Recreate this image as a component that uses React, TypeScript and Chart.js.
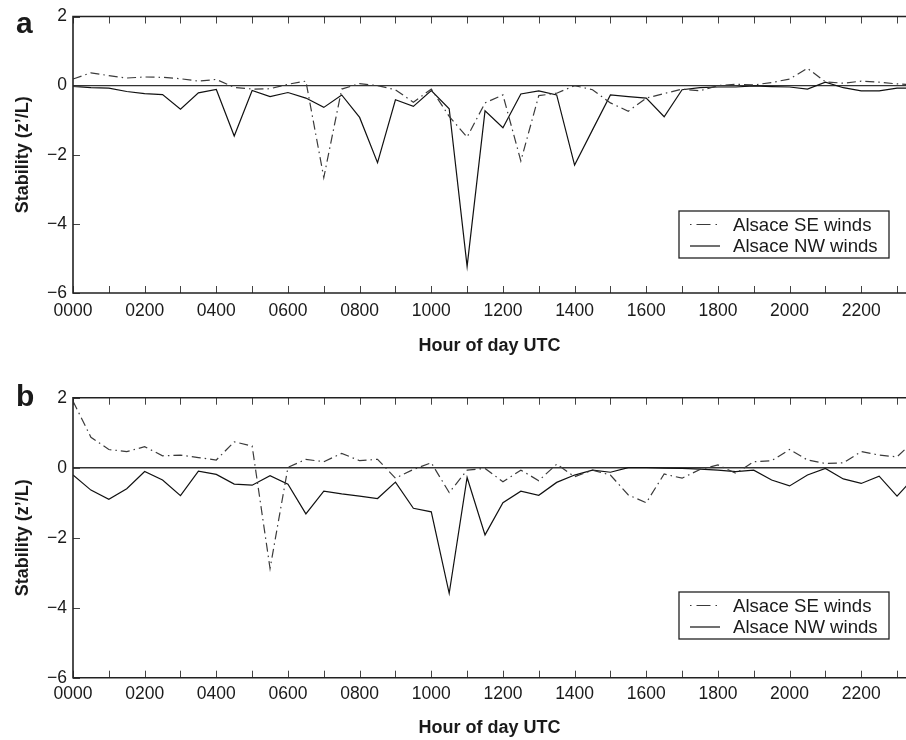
import React, { useEffect, useRef } from "react";
import { Chart, registerables } from "chart.js";

Chart.register(...registerables);

// ---- data ----
const hours = [
  0, 0.5, 1, 1.5, 2, 2.5, 3, 3.5, 4, 4.5, 5, 5.5, 6, 6.5, 7, 7.5, 8, 8.5, 9, 9.5,
  10, 10.5, 11, 11.5, 12, 12.5, 13, 13.5, 14, 14.5, 15, 15.5, 16, 16.5, 17, 17.5,
  18, 18.5, 19, 19.5, 20, 20.5, 21, 21.5, 22, 22.5, 23, 23.5,
];

const seWindsA = [
  0.19, 0.37, 0.29, 0.22, 0.25, 0.24, 0.2, 0.13, 0.18, -0.05,
  -0.1, -0.09, 0.04, 0.13, -2.66, -0.1, 0.06, 0, -0.12, -0.48,
  -0.1, -0.89, -1.49, -0.5, -0.27, -2.18, -0.29, -0.22, 0, -0.12,
  -0.5, -0.74, -0.36, -0.23, -0.1, -0.15, 0, 0.04, 0.02, 0.09,
  0.19, 0.5, 0.11, 0.07, 0.13, 0.1, 0.05, 0.02,
];
const nwWindsA = [
  -0.02, -0.06, -0.07, -0.17, -0.23, -0.26, -0.68, -0.21, -0.11, -1.46,
  -0.14, -0.32, -0.2, -0.36, -0.63, -0.27, -0.92, -2.23, -0.41, -0.6,
  -0.14, -0.67, -5.23, -0.73, -1.22, -0.24, -0.15, -0.27, -2.3, -1.28,
  -0.27, -0.32, -0.36, -0.9, -0.12, -0.06, -0.04, -0.04, -0.01, -0.03,
  -0.04, -0.1, 0.1, -0.06, -0.15, -0.15, -0.07, -0.08,
];
const seWindsB = [
  1.9, 0.87, 0.52, 0.46, 0.6, 0.34, 0.36, 0.29, 0.22, 0.74,
  0.62, -2.88, 0.01, 0.24, 0.17, 0.41, 0.2, 0.24, -0.3, -0.05,
  0.14, -0.71, -0.07, -0.02, -0.4, -0.07, -0.37, 0.1, -0.26, -0.07,
  -0.21, -0.78, -1.0, -0.18, -0.3, -0.05, 0.08, -0.16, 0.17, 0.2,
  0.52, 0.22, 0.12, 0.14, 0.46, 0.36, 0.31, 0.79,
];
const nwWindsB = [
  -0.21, -0.64, -0.9, -0.6, -0.11, -0.35, -0.8, -0.1, -0.19, -0.47,
  -0.5, -0.23, -0.47, -1.32, -0.67, -0.75, -0.81, -0.88, -0.41, -1.16,
  -1.26, -3.59, -0.28, -1.92, -1.0, -0.67, -0.79, -0.42, -0.21, -0.07,
  -0.13, 0, 0, -0.01, -0.02, -0.04, -0.07, -0.11, -0.07, -0.35,
  -0.52, -0.21, -0.02, -0.32, -0.45, -0.24, -0.81, -0.26,
];

const xLabelHours = [0, 2, 4, 6, 8, 10, 12, 14, 16, 18, 20, 22];
const xTickLabels = ["0000", "0200", "0400", "0600", "0800", "1000", "1200", "1400", "1600", "1800", "2000", "2200"];
const xMinorHours = [0, 1, 2, 3, 4, 5, 6, 7, 8, 9, 10, 11, 12, 13, 14, 15, 16, 17, 18, 19, 20, 21, 22, 23];
const yTickValues = [-6, -4, -2, 0, 2];
const yTickLabels = ["\u22126", "\u22124", "\u22122", "0", "2"];
const seriesLabels = ["Alsace SE winds", "Alsace NW winds"];
const xTitle = "Hour of day UTC";
const yTitle = "Stability (z\u2019/L)";

const FONT = '"Liberation Sans", Arial, Helvetica, sans-serif';
const SE_DASH = [9, 4, 1.5, 4];

type PanelProps = {
  letter: string;
  se: number[];
  nw: number[];
  top: number;
  padTop: number;
  xHeight: number;
  tickPad: number;
  titlePadBottom: number;
  legendTop: number;
  letterBaseline: number;
};

function Panel(p: PanelProps) {
  const ref = useRef<HTMLCanvasElement | null>(null);

  useEffect(() => {
    if (!ref.current) return;
    const deco = {
      id: "deco",
      beforeDatasetsDraw(chart: any) {
        const { ctx, chartArea } = chart;
        const y0 = chart.scales.y.getPixelForValue(0);
        ctx.save();
        ctx.strokeStyle = "#333";
        ctx.lineWidth = 1.4;
        ctx.beginPath();
        ctx.moveTo(chartArea.left, y0);
        ctx.lineTo(chartArea.right, y0);
        ctx.stroke();
        ctx.restore();
      },
      afterDraw(chart: any) {
        const { ctx, chartArea } = chart;
        const xs = chart.scales.x;
        const ys = chart.scales.y;
        const { left, right, top, bottom } = chartArea;
        ctx.save();
        // ticks
        ctx.strokeStyle = "#444";
        ctx.lineWidth = 1;
        const tl = 7;
        ctx.beginPath();
        xMinorHours.forEach((h) => {
          const x = Math.round(xs.getPixelForValue(h)) + 0.5;
          ctx.moveTo(x, top);
          ctx.lineTo(x, top + tl);
          ctx.moveTo(x, bottom);
          ctx.lineTo(x, bottom - tl);
        });
        yTickValues.forEach((v) => {
          const y = Math.round(ys.getPixelForValue(v)) + 0.5;
          ctx.moveTo(left, y);
          ctx.lineTo(left + tl, y);
        });
        ctx.stroke();
        // frame (right side lies beyond the picture)
        ctx.strokeStyle = "#222";
        ctx.lineWidth = 1.6;
        ctx.beginPath();
        ctx.moveTo(right + 2, top);
        ctx.lineTo(left, top);
        ctx.lineTo(left, bottom);
        ctx.lineTo(right + 2, bottom);
        ctx.stroke();
        // legend
        const bw = 210;
        const bh = 47;
        const bx = right - 17 - bw;
        const by = p.legendTop;
        ctx.fillStyle = "#fff";
        ctx.fillRect(bx, by, bw, bh);
        ctx.strokeStyle = "#222";
        ctx.lineWidth = 1.3;
        ctx.strokeRect(bx, by, bw, bh);
        const rows = [by + 13.5, by + 35];
        ctx.lineWidth = 1.2;
        ctx.strokeStyle = "#3a3a3a";
        ctx.setLineDash([1.5, 5, 14, 5, 1.5, 20]);
        ctx.beginPath();
        ctx.moveTo(bx + 11, rows[0]);
        ctx.lineTo(bx + 41, rows[0]);
        ctx.stroke();
        ctx.setLineDash([]);
        ctx.strokeStyle = "#111";
        ctx.beginPath();
        ctx.moveTo(bx + 11, rows[1]);
        ctx.lineTo(bx + 41, rows[1]);
        ctx.stroke();
        ctx.fillStyle = "#1a1a1a";
        ctx.font = `18.6px ${FONT}`;
        ctx.textAlign = "left";
        ctx.textBaseline = "middle";
        ctx.fillText(seriesLabels[0], bx + 54, rows[0] + 1);
        ctx.fillText(seriesLabels[1], bx + 54, rows[1] + 1);
        // panel letter
        ctx.font = `bold 30px ${FONT}`;
        ctx.textBaseline = "alphabetic";
        ctx.fillText(p.letter, 16, p.letterBaseline);
        ctx.restore();
      },
    };

    const chart = new Chart(ref.current, {
      type: "line",
      data: {
        datasets: [
          {
            label: seriesLabels[0],
            data: hours.map((h, i) => ({ x: h, y: p.se[i] })),
            borderColor: "#3a3a3a",
            borderWidth: 1.2,
            borderDash: SE_DASH,
            pointRadius: 0,
            fill: false,
            tension: 0,
          },
          {
            label: seriesLabels[1],
            data: hours.map((h, i) => ({ x: h, y: p.nw[i] })),
            borderColor: "#111",
            borderWidth: 1.2,
            pointRadius: 0,
            fill: false,
            tension: 0,
          },
        ],
      },
      options: {
        responsive: false,
        animation: false,
        devicePixelRatio: 1,
        layout: { padding: { top: p.padTop, left: 0, right: 0, bottom: 0 } },
        plugins: { legend: { display: false }, tooltip: { enabled: false } },
        scales: {
          x: {
            type: "linear",
            min: 0,
            max: 23.25,
            grid: { display: false, drawTicks: false },
            border: { display: false },
            afterBuildTicks: (s: any) => {
              s.ticks = xLabelHours.map((v) => ({ value: v }));
            },
            afterFit: (s: any) => {
              s.height = p.xHeight;
            },
            ticks: {
              autoSkip: false,
              maxRotation: 0,
              padding: p.tickPad,
              color: "#1a1a1a",
              font: { family: FONT, size: 17.5 },
              callback: (_v: any, i: number) => xTickLabels[i],
            },
            title: {
              display: true,
              text: xTitle,
              color: "#1a1a1a",
              font: { family: FONT, size: 18, weight: "bold" },
              padding: { top: 0, bottom: p.titlePadBottom },
            },
          },
          y: {
            type: "linear",
            min: -6,
            max: 2,
            grid: { display: false, drawTicks: false },
            border: { display: false },
            afterBuildTicks: (s: any) => {
              s.ticks = yTickValues.map((v) => ({ value: v }));
            },
            afterFit: (s: any) => {
              s.width = 73;
            },
            ticks: {
              padding: 6,
              color: "#1a1a1a",
              font: { family: FONT, size: 17.5 },
              callback: (_v: any, i: number) => yTickLabels[i],
            },
            title: {
              display: true,
              text: yTitle,
              color: "#1a1a1a",
              font: { family: FONT, size: 18, weight: "bold" },
              padding: { top: 12, bottom: 0 },
            },
          },
        },
      },
      plugins: [deco],
    } as any);
    return () => chart.destroy();
  }, []);

  return (
    <canvas
      ref={ref}
      width={906}
      height={370}
      style={{ position: "absolute", left: 0, top: p.top, width: 906, height: 370, display: "block" }}
    />
  );
}

export default function App() {
  return (
    <div style={{ position: "absolute", left: 0, top: 0, width: 906, height: 740, background: "#fff", overflow: "hidden" }}>
      <Panel
        letter="a"
        se={seWindsA}
        nw={nwWindsA}
        top={0}
        padTop={14}
        xHeight={77}
        tickPad={7.5}
        titlePadBottom={13}
        legendTop={211}
        letterBaseline={33}
      />
      <Panel
        letter="b"
        se={seWindsB}
        nw={nwWindsB}
        top={370}
        padTop={27.7}
        xHeight={62.3}
        tickPad={6.3}
        titlePadBottom={1.5}
        legendTop={222}
        letterBaseline={36}
      />
    </div>
  );
}
